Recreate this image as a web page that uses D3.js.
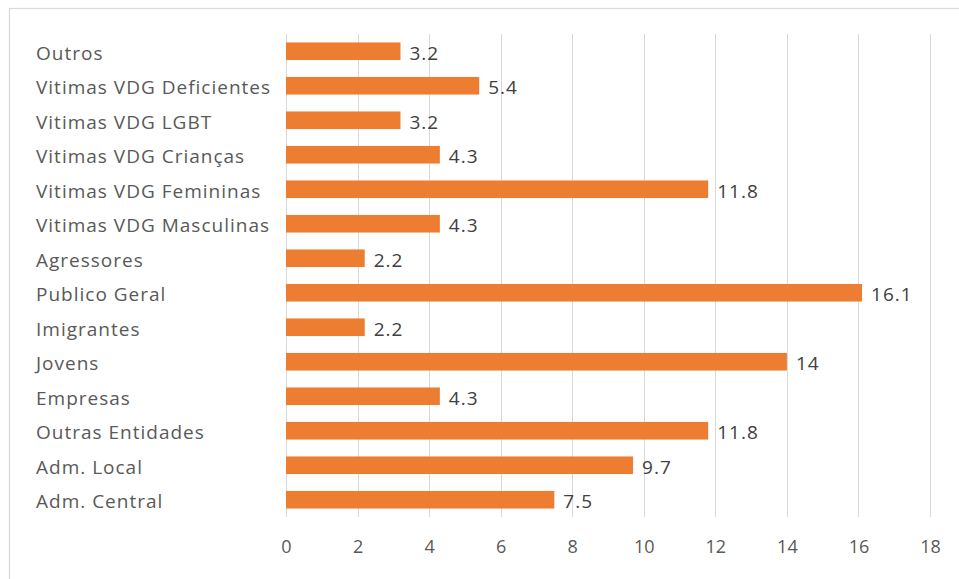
<!DOCTYPE html>
<html><head><meta charset="utf-8">
<script src="https://cdn.jsdelivr.net/npm/d3@7"></script>
<style>html,body{margin:0;padding:0;background:#fff;overflow:hidden}</style>
</head><body>
<svg id="c" width="959" height="579"></svg>
<script>
const categories = ["Outros","Vitimas VDG Deficientes","Vitimas VDG LGBT","Vitimas VDG Crianças","Vitimas VDG Femininas","Vitimas VDG Masculinas","Agressores","Publico Geral","Imigrantes","Jovens","Empresas","Outras Entidades","Adm. Local","Adm. Central"];
const values = [3.2,5.4,3.2,4.3,11.8,4.3,2.2,16.1,2.2,14,4.3,11.8,9.7,7.5];
const valueLabels = ["3.2","5.4","3.2","4.3","11.8","4.3","2.2","16.1","2.2","14","4.3","11.8","9.7","7.5"];
const tickValues = [0,2,4,6,8,10,12,14,16,18];

const svg = d3.select("#c");
const font = "'Open Sans', sans-serif";
// chart area border
svg.append("rect").attr("x",9.5).attr("y",8.5).attr("width",1000).attr("height",700)
  .attr("fill","#fff").attr("stroke","#d9d9d9").attr("stroke-width",1.2);

const x = d3.scaleLinear().domain([0,18]).range([286,930]);
const y = d3.scaleBand().domain(categories).range([34,517]).paddingInner(0.49).paddingOuter(0.245);

// gridlines
svg.append("g").selectAll("line").data(tickValues).join("line")
  .attr("x1",d=>Math.round(x(d))+0.5).attr("x2",d=>Math.round(x(d))+0.5)
  .attr("y1",34).attr("y2",517).attr("stroke","#d9d9d9").attr("stroke-width",1);

// x axis labels
const xAxis = d3.axisBottom(x).tickValues(tickValues).tickSize(0).tickPadding(0).tickFormat(d3.format("d"));
const gx = svg.append("g").attr("transform","translate(0,547)").call(xAxis);
gx.select(".domain").remove();
gx.selectAll("text").attr("font-family",font).attr("font-size",18).attr("fill","#595959").attr("dy","0.35em");

// y axis labels
const yAxis = d3.axisLeft(y).tickSize(0).tickPadding(0);
const gy = svg.append("g").attr("transform","translate(36,2)").call(yAxis);
gy.select(".domain").remove();
gy.selectAll("text").attr("text-anchor","start").attr("x",0).attr("font-family",font).attr("font-size",19).attr("letter-spacing",1).attr("fill","#595959").attr("dy","0.35em");

// bars
svg.append("g").selectAll("rect").data(values).join("rect")
  .attr("x",x(0)).attr("y",(d,i)=>y(categories[i]))
  .attr("width",d=>x(d)-x(0)).attr("height",y.bandwidth())
  .attr("fill","#ED7D31");

// value labels
svg.append("g").selectAll("text").data(values).join("text")
  .attr("x",d=>x(d)+9).attr("y",(d,i)=>y(categories[i])+y.bandwidth()/2+2)
  .attr("dy","0.35em").attr("font-family",font).attr("font-size",19).attr("letter-spacing",1).attr("fill","#404040")
  .text((d,i)=>valueLabels[i]);
</script>
</body></html>
